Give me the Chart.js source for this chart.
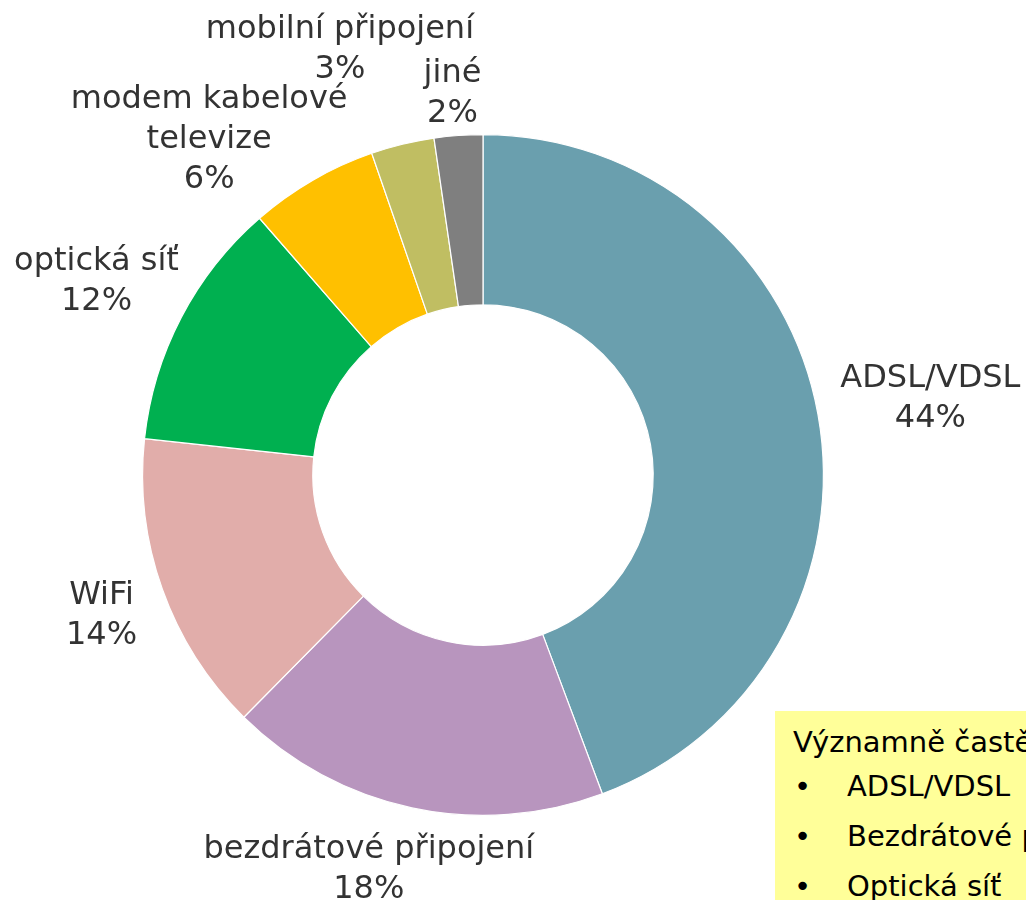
<!DOCTYPE html>
<html>
<head>
<meta charset="utf-8">
<script src="https://cdn.jsdelivr.net/npm/chart.js@4/dist/chart.umd.min.js"></script>
<style>
  html, body { margin: 0; padding: 0; background: #fff; overflow: hidden; }
  #wrap { position: relative; width: 1026px; height: 900px; overflow: hidden; }
  #note {
    position: absolute; left: 775px; top: 711px; width: 420px; height: 260px;
    background: #FFFF99; font-family: "DejaVu Sans", Verdana, sans-serif;
    font-size: 29px; color: #000; white-space: nowrap; line-height: 34px;
  }
  #note .t { position: absolute; left: 18px; top: 14px; }
  #note ul { position: absolute; left: 0; top: 58px; margin: 0; padding: 0; list-style: none; }
  #note li { position: relative; height: 50px; padding-left: 72px; }
  #note li::before { content: "•"; position: absolute; left: 19px; }
</style>
</head>
<body>
<div id="wrap">
  <canvas id="c" width="1026" height="900"></canvas>
  <div id="note">
    <div class="t">Významně častější:</div>
    <ul>
      <li>ADSL/VDSL</li>
      <li>Bezdrátové připojení</li>
      <li>Optická síť</li>
    </ul>
  </div>
</div>
<script>
const categories = ['ADSL/VDSL', 'bezdrátové připojení', 'WiFi', 'optická síť', ['modem kabelové', 'televize'], 'mobilní připojení', 'jiné'];
const shares = [44.3, 18.1, 14.3, 11.9, 6.1, 3.0, 2.3];
const colors = ['#6A9FAE', '#B895BE', '#E1ADAA', '#00B050', '#FFC000', '#C0BE62', '#7F7F7F'];
const labelNudge = [[12, -6], [-6, 11], [-16, 9], [-1, -12], [-28, 22], [-28, -44], [-3, 10]];

const outsideLabels = {
  id: 'outsideLabels',
  afterDatasetsDraw(chart) {
    const ctx = chart.ctx;
    const meta = chart.getDatasetMeta(0);
    const fontSize = 32, lineH = 40, gap = 12;
    ctx.save();
    ctx.font = fontSize + 'px "DejaVu Sans", Verdana, sans-serif';
    ctx.fillStyle = '#333333';
    ctx.textAlign = 'center';
    ctx.textBaseline = 'middle';
    meta.data.forEach((arc, i) => {
      const p = arc.getProps(['x', 'y', 'startAngle', 'endAngle', 'outerRadius'], true);
      const mid = (p.startAngle + p.endAngle) / 2;
      const c = Math.cos(mid), s = Math.sin(mid);
      const name = categories[i];
      const lines = (Array.isArray(name) ? name.slice() : [name]);
      lines.push(Math.round(shares[i]) + '%');
      const w = Math.max(...lines.map(l => ctx.measureText(l).width));
      const h = lines.length * lineH;
      const ax = p.x + (p.outerRadius + gap) * c;
      const ay = p.y + (p.outerRadius + gap) * s;
      const cx = ax + (w / 2) * c + labelNudge[i][0];
      const cy = ay + (h / 2) * s + labelNudge[i][1];
      lines.forEach((l, k) => {
        ctx.fillText(l, cx, cy - h / 2 + lineH * (k + 0.5));
      });
    });
    ctx.restore();
  }
};

new Chart(document.getElementById('c'), {
  type: 'doughnut',
  data: {
    labels: categories,
    datasets: [{
      data: shares,
      backgroundColor: colors,
      borderColor: '#ffffff',
      borderWidth: 1.2
    }]
  },
  options: {
    responsive: false,
    animation: false,
    cutout: '50%',
    layout: { padding: { top: 134, bottom: 84, left: 142, right: 202 } },
    plugins: { legend: { display: false }, tooltip: { enabled: false } }
  },
  plugins: [outsideLabels]
});
</script>
</body>
</html>
